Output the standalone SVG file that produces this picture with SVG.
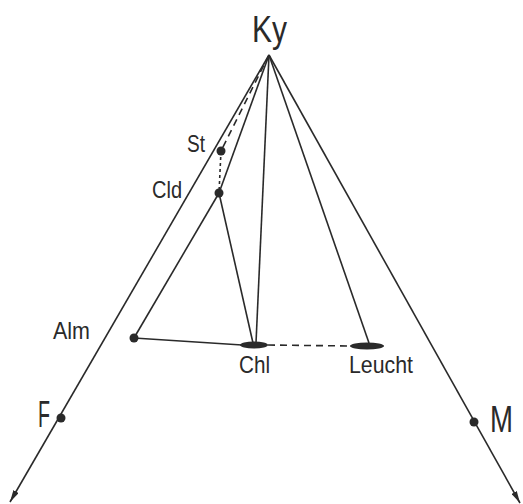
<svg xmlns="http://www.w3.org/2000/svg" width="523" height="504" viewBox="0 0 523 504">
<defs>
<style>
.ln{stroke:#2a2a2a;stroke-width:1.6;fill:none}
.dash{stroke-dasharray:7,5}
.dot{stroke-dasharray:3,3}
.pt{fill:#2a2a2a}
.big{font-family:"Liberation Sans","DejaVu Sans",sans-serif;font-size:36px;fill:#2a2a2a}
.sm{font-family:"Liberation Sans","DejaVu Sans",sans-serif;font-size:24px;fill:#2a2a2a}
</style>
<marker id="arr" viewBox="0 0 12 6" refX="12" refY="3" markerWidth="12" markerHeight="6" markerUnits="userSpaceOnUse" orient="auto">
<path d="M0,0 L12,3 L0,6 Z" fill="#2a2a2a"/>
</marker>
</defs>
<rect width="523" height="504" fill="#ffffff"/>
<g id="connectors">
<line class="ln" x1="269" y1="55" x2="10" y2="502" marker-end="url(#arr)"/>
<line class="ln" x1="269" y1="55" x2="520" y2="503" marker-end="url(#arr)"/>
<line class="ln dash" x1="269" y1="55" x2="221" y2="151"/>
<line class="ln dot" x1="221" y1="151" x2="219" y2="193"/>
<line class="ln" x1="269" y1="55" x2="219" y2="193"/>
<line class="ln" x1="269" y1="55" x2="256" y2="343"/>
<line class="ln" x1="269" y1="55" x2="369" y2="343"/>
<line class="ln" x1="219" y1="193" x2="253" y2="343"/>
<line class="ln" x1="219" y1="193" x2="134" y2="338"/>
<line class="ln" x1="134" y1="338" x2="242" y2="345"/>
<line class="ln dash" x1="268" y1="345" x2="350" y2="346"/>
</g>
<g id="Ky"><text class="big" x="252" y="42" textLength="35" lengthAdjust="spacingAndGlyphs">Ky</text></g>
<g id="St"><circle class="pt" cx="221" cy="151" r="4.5"/><text class="sm" x="187" y="152" textLength="18" lengthAdjust="spacingAndGlyphs">St</text></g>
<g id="Cld"><circle class="pt" cx="219" cy="193" r="4.5"/><text class="sm" x="152" y="198" textLength="30" lengthAdjust="spacingAndGlyphs">Cld</text></g>
<g id="Alm"><circle class="pt" cx="134" cy="338" r="4.5"/><text class="sm" x="53" y="339" textLength="37" lengthAdjust="spacingAndGlyphs">Alm</text></g>
<g id="Chl"><ellipse class="pt" cx="254" cy="345" rx="14" ry="3.5"/><text class="sm" x="239" y="373" textLength="31" lengthAdjust="spacingAndGlyphs">Chl</text></g>
<g id="Leucht"><ellipse class="pt" cx="367" cy="346" rx="17" ry="3.5"/><text class="sm" x="349" y="373" textLength="64" lengthAdjust="spacingAndGlyphs">Leucht</text></g>
<g id="F"><circle class="pt" cx="61" cy="418" r="4.5"/><text class="big" x="38" y="427" textLength="12" lengthAdjust="spacingAndGlyphs">F</text></g>
<g id="M"><circle class="pt" cx="474" cy="422" r="4.5"/><text class="big" x="490" y="432" textLength="23" lengthAdjust="spacingAndGlyphs">M</text></g>
</svg>
